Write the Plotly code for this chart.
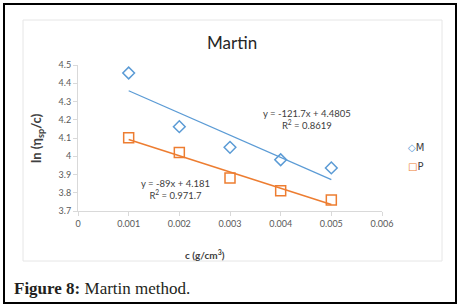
import plotly.graph_objects as go

# ---- data ----
conc = [0.001, 0.002, 0.003, 0.004, 0.005]
m_vals = [4.456, 4.162, 4.049, 3.981, 3.936]
p_vals = [4.102, 4.020, 3.881, 3.811, 3.760]
m_fit = (-121.7, 4.4805)
p_fit = (-89.0, 4.181)
m_eq = "y = -121.7x + 4.4805<br>R<sup>2</sup> = 0.8619"
p_eq = "y = -89x + 4.181<br>R<sup>2</sup> = 0.971.7"
x_ticks = [0, 0.001, 0.002, 0.003, 0.004, 0.005, 0.006]
x_tick_text = ["0", "0.001", "0.002", "0.003", "0.004", "0.005", "0.006"]
y_ticks = [3.7, 3.8, 3.9, 4.0, 4.1, 4.2, 4.3, 4.4, 4.5]
y_tick_text = ["3.7", "3.8", "3.9", "4", "4.1", "4.2", "4.3", "4.4", "4.5"]

BLUE = "#5B9BD5"
ORANGE = "#ED7D31"
W, H = 463, 307
L, R, T, B = 78, 382, 65, 211  # plot area in pixels
SANS = "Lato, Open Sans, Liberation Sans, sans-serif"


def px(x):
    return (x - L) / (R - L)


def py(y):
    return (B - y) / (B - T)


def note(text, x, y, size, color="#404040", family=SANS, xanchor="center", **kw):
    return dict(text=text, xref="paper", yref="paper", x=px(x), y=py(y),
                xanchor=xanchor, yanchor="middle", showarrow=False,
                font=dict(family=family, size=size, color=color), **kw)


fig = go.Figure()

fig.add_trace(go.Scatter(
    x=conc, y=m_vals, mode="markers", name="M", showlegend=False,
    marker=dict(symbol="diamond-open", size=9, color=BLUE, line=dict(width=1.5, color=BLUE)),
))
fig.add_trace(go.Scatter(
    x=conc, y=p_vals, mode="markers", name="P", showlegend=False,
    marker=dict(symbol="square-open", size=10, color=ORANGE, line=dict(width=1.5, color=ORANGE)),
))

# trendlines from fitted coefficients
xs = [conc[0], conc[-1]]
fig.add_trace(go.Scatter(
    x=xs, y=[m_fit[0] * x + m_fit[1] for x in xs], mode="lines",
    line=dict(color=BLUE, width=1.2), showlegend=False, hoverinfo="skip",
))
fig.add_trace(go.Scatter(
    x=xs, y=[p_fit[0] * x + p_fit[1] for x in xs], mode="lines",
    line=dict(color=ORANGE, width=1.5), showlegend=False, hoverinfo="skip",
))

axis_font = dict(family=SANS, size=9, color="#595959")

fig.update_layout(
    width=W, height=H,
    margin=dict(l=L, r=W - R, t=T, b=H - B, pad=0, autoexpand=False),
    paper_bgcolor="white", plot_bgcolor="white",
    showlegend=False,
    xaxis=dict(
        range=[0, 0.006], tickvals=x_ticks, ticktext=x_tick_text,
        showgrid=False, zeroline=False, showline=True, linecolor="#d9d9d9", linewidth=1,
        ticks="outside", ticklen=4, tickcolor="#d9d9d9", tickfont=axis_font,
    ),
    yaxis=dict(
        range=[3.7, 4.5], tickvals=y_ticks, ticktext=y_tick_text,
        showgrid=False, zeroline=False, showline=True, linecolor="#d9d9d9", linewidth=1,
        ticks="outside", ticklen=4, tickcolor="#d9d9d9", tickfont=axis_font,
    ),
    shapes=[
        dict(type="rect", xref="paper", yref="paper",
             x0=px(23), x1=px(442), y0=py(261), y1=py(20),
             line=dict(color="#e6e6e6", width=1), layer="below"),
        dict(type="rect", xref="paper", yref="paper",
             x0=px(4), x1=px(456), y0=py(303), y1=py(4),
             line=dict(color="black", width=2)),
    ],
    annotations=[
        note("Martin", 232, 42, 17, color="#262626"),
        note("<b>ln (η<sub>sp</sub>/c)</b>", 37, 138, 13, textangle=-90),
        note("<b>c (g/cm<sup>3</sup>)</b>", 205, 255, 10),
        note(m_eq, 307, 119, 9.5, align="center"),
        note(p_eq, 175, 189, 9.5, align="center"),
        # legend
        note("<span style='color:%s'>◇</span>M" % BLUE, 406, 147, 10,
             family="DejaVu Sans, sans-serif", xanchor="left"),
        note("<span style='color:%s'>□</span>P" % ORANGE, 406, 166, 10,
             family="DejaVu Sans, sans-serif", xanchor="left"),
        note("<b>Figure 8:</b> Martin method.", 12, 288, 17, color="#231f20",
             family="Liberation Serif, DejaVu Serif, serif", xanchor="left"),
    ],
)

fig.write_html(
    "out.html",
    config={"displayModeBar": False, "responsive": False},
    post_script="document.body.style.margin='0px';document.body.style.overflow='hidden';",
)
